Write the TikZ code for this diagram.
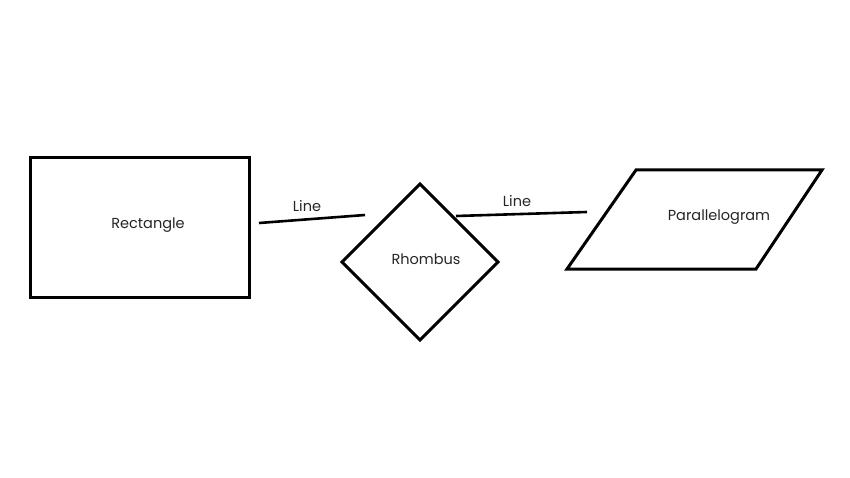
\documentclass[tikz,border=0pt]{standalone}
\usepackage{fontspec}
\setmainfont{Poppins}
\begin{document}
\begin{tikzpicture}[x=1pt,y=-1pt,
  shapeline/.style={line width=3pt, line join=miter},
  conn/.style={line width=2.6pt},
  lbl/.style={font=\fontsize{14.5}{16}\selectfont, text=black!85, inner sep=0pt}]
\useasboundingbox (0,0) rectangle (850,478);
\fill[white] (0,0) rectangle (850,478);
% rectangle
\draw[shapeline] (30,158) rectangle (249,297);
\node[lbl] (rect) at (148,225) {Rectangle};
% rhombus
\draw[shapeline] (420,184) -- (498,262) -- (420,340) -- (342,262) -- cycle;
\node[lbl] (rhomb) at (426,259) {Rhombus};
% parallelogram
\draw[shapeline] (636,170) -- (822,170) -- (756,269) -- (567,269) -- cycle;
\node[lbl] (para) at (719,217) {Parallelogram};
% connectors
\coordinate (l1a) at (259,223);
\coordinate (l1b) at (365,215);
\coordinate (l2a) at (456,216);
\coordinate (l2b) at (587,212);
\draw[conn] (l1a) -- (l1b);
\draw[conn] (l2a) -- (l2b);
\node[lbl] (lab1) at (307,206) {Line};
\node[lbl] (lab2) at (517,201) {Line};
\end{tikzpicture}
\end{document}
